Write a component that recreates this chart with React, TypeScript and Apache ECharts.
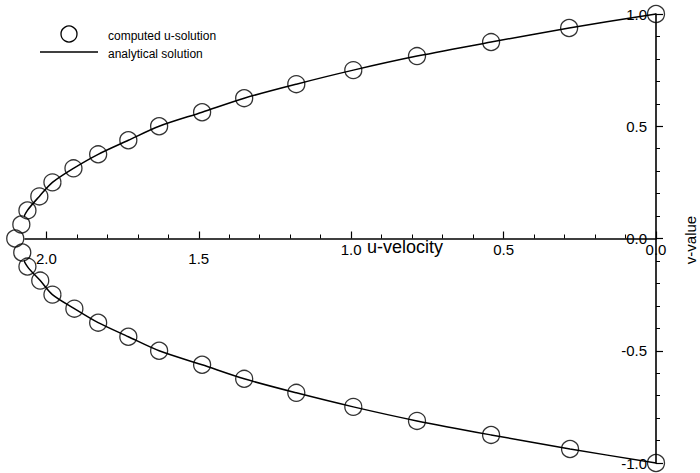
import React, { useEffect, useRef } from 'react';
import * as echarts from 'echarts';

// v-coordinate of each computed point (top wall to bottom wall)
const vValues = [
  1, 0.9375, 0.875, 0.8125, 0.75, 0.6875, 0.625, 0.5625, 0.5, 0.4375, 0.375, 0.3125, 0.25, 0.1875, 0.125, 0.0625,
  0,
  -0.0625, -0.125, -0.1875, -0.25, -0.3125, -0.375, -0.4375, -0.5, -0.5625, -0.625, -0.6875, -0.75, -0.8125, -0.875, -0.9375, -1,
];
// computed u-solution read from the circles
const uComputed = [
  0.0, 0.285, 0.541, 0.784, 0.993, 1.18, 1.351, 1.489, 1.63, 1.731, 1.83, 1.911, 1.98, 2.023, 2.062, 2.082,
  2.102,
  2.079, 2.062, 2.02, 1.98, 1.908, 1.83, 1.731, 1.63, 1.489, 1.351, 1.18, 0.993, 0.784, 0.541, 0.282, 0.0,
];
// analytical solution
const uAnalytical = [
  0.0, 0.285, 0.541, 0.784, 0.993, 1.18, 1.351, 1.489, 1.63, 1.731, 1.83, 1.911, 1.98, 2.023, 2.062, 2.085,
  2.095,
  2.085, 2.062, 2.02, 1.98, 1.908, 1.83, 1.731, 1.63, 1.489, 1.351, 1.18, 0.993, 0.784, 0.541, 0.282, 0.0,
];
const xTickValues = [0, 0.5, 1.0, 1.5, 2.0];

const FONT = "'Liberation Sans', Arial, Helvetica, sans-serif";
const GRID_TOP = 14;
const GRID_BOTTOM = 10;
const CHART_H = 473;

export default function App() {
  const ref = useRef<HTMLDivElement>(null);
  useEffect(() => {
    const chart = echarts.init(ref.current!, null, { renderer: 'svg' });
    const computed = vValues.map((v, i) => [uComputed[i], v]);
    const analytical = vValues.map((v, i) => [uAnalytical[i], v]);
    // place the x axis on v = 0 (middle of the grid)
    const gridH = CHART_H - GRID_TOP - GRID_BOTTOM;
    const xAxisOffset = -gridH / 2;
    chart.setOption({
      animation: false,
      backgroundColor: '#fff',
      textStyle: { fontFamily: FONT, color: '#000' },
      grid: { left: 25, right: 44, top: GRID_TOP, bottom: GRID_BOTTOM },
      xAxis: {
        type: 'value',
        inverse: true,
        min: 0,
        max: 2.07,
        interval: 0.5,
        position: 'bottom',
        offset: xAxisOffset,
        axisLine: { onZero: false, lineStyle: { color: '#000', width: 1.6 } },
        axisTick: { show: true, inside: true, length: 7, customValues: xTickValues, lineStyle: { color: '#000', width: 1.2 } },
        minorTick: { show: true, splitNumber: 5, length: 4, lineStyle: { color: '#000', width: 1 } },
        axisLabel: {
          customValues: xTickValues,
          margin: 3,
          color: '#000',
          fontSize: 15,
          fontFamily: FONT,
          formatter: (v: number) => (v >= 1.4 ? `{lo|${v.toFixed(1)}}` : `{hi|${v.toFixed(1)}}`),
          rich: {
            lo: { fontSize: 15, fontFamily: FONT, color: '#000', padding: [9, 0, 0, 0] },
            hi: { fontSize: 15, fontFamily: FONT, color: '#000' },
          },
        },
        splitLine: { show: false },
      },
      yAxis: {
        type: 'value',
        position: 'right',
        min: -1,
        max: 1,
        interval: 0.5,
        axisLine: { onZero: false, lineStyle: { color: '#000', width: 1.6 } },
        axisTick: { show: true, inside: false, length: 7, lineStyle: { color: '#000', width: 1.2 } },
        minorTick: { show: true, splitNumber: 5, length: 4, lineStyle: { color: '#000', width: 1 } },
        axisLabel: {
          inside: true,
          margin: 9,
          color: '#000',
          fontSize: 15,
          fontFamily: FONT,
          formatter: (v: number) => v.toFixed(1),
        },
        splitLine: { show: false },
      },
      series: [
        {
          name: 'analytical solution',
          type: 'line',
          data: analytical,
          smooth: 0.3,
          symbol: 'none',
          showSymbol: false,
          clip: false,
          lineStyle: { color: '#000', width: 1.5 },
          z: 2,
        },
        {
          name: 'computed u-solution',
          type: 'scatter',
          data: computed,
          symbol: 'circle',
          symbolSize: 17,
          clip: false,
          itemStyle: { color: 'rgba(255,255,255,0)', borderColor: '#000', borderWidth: 1.3 },
          z: 3,
        },
      ],
      graphic: [
        { type: 'circle', shape: { cx: 69, cy: 34, r: 8 }, style: { fill: 'none', stroke: '#000', lineWidth: 1.3 } },
        { type: 'line', shape: { x1: 40, y1: 52, x2: 98, y2: 52 }, style: { stroke: '#000', lineWidth: 1.5 } },
        { type: 'text', x: 108, y: 36, style: { text: 'computed u-solution', fontSize: 12, fontFamily: FONT, fill: '#000', verticalAlign: 'middle' } },
        { type: 'text', x: 108, y: 54, style: { text: 'analytical solution', fontSize: 12, fontFamily: FONT, fill: '#000', verticalAlign: 'middle' } },
        { type: 'text', x: 367, y: 247, style: { text: 'u-velocity', fontSize: 18, fontFamily: FONT, fill: '#000', verticalAlign: 'middle' } },
        { type: 'text', x: 690, y: 240, rotation: Math.PI / 2, style: { text: 'v-value', fontSize: 15, fontFamily: FONT, fill: '#000', align: 'center', verticalAlign: 'middle' } },
      ],
    });
    return () => chart.dispose();
  }, []);
  return <div ref={ref} style={{ width: 700, height: 473, position: 'absolute', left: 0, top: 0 }} />;
}
